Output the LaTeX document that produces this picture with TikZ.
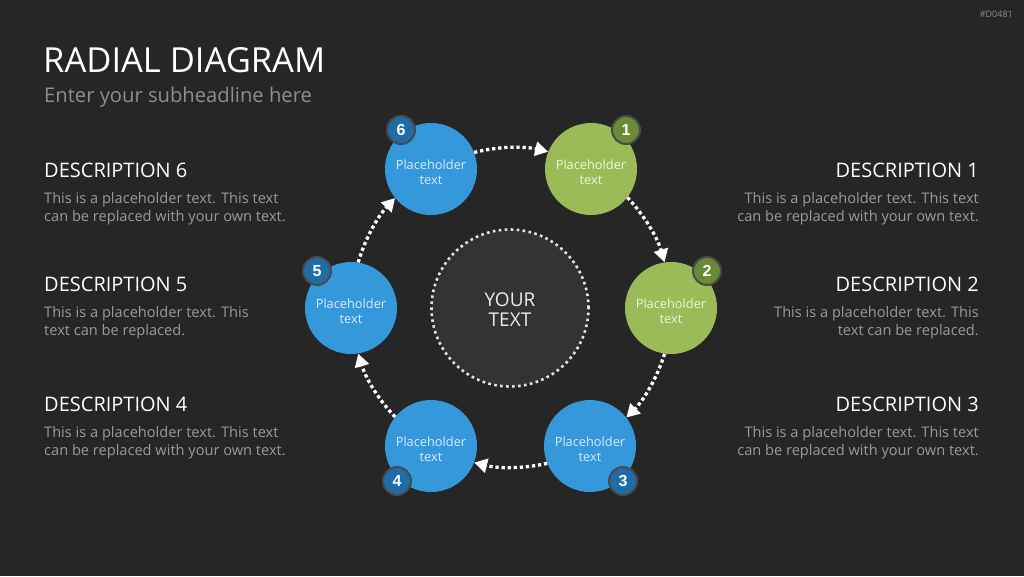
\documentclass[tikz,border=0pt]{standalone}
\usepackage{fontspec}
\setmainfont{Open Sans}
\newfontfamily\badgefont{Liberation Sans}
\usetikzlibrary{arrows.meta}
\definecolor{bg}{HTML}{262626}
\definecolor{cblue}{HTML}{3598DB}
\definecolor{cgreen}{HTML}{9BBB59}
\definecolor{bblue}{HTML}{1E6CA8}
\definecolor{bgreen}{HTML}{6B8A35}
\definecolor{bbord}{HTML}{4A4A4A}
\definecolor{greytext}{HTML}{9A9A9A}
\definecolor{subgrey}{HTML}{8E8E8E}
\definecolor{centerfill}{HTML}{333333}
\definecolor{txtblue}{HTML}{D8ECFA}
\definecolor{txtgreen}{HTML}{EEF4DF}
\tikzset{
  bubble/.style={circle, minimum size=92pt, inner sep=0pt, align=center, font=\fontsize{12.8}{15}\selectfont},
  bluebub/.style={bubble, fill=cblue, text=txtblue},
  greenbub/.style={bubble, fill=cgreen, text=txtgreen},
  badge/.style={circle, minimum size=28pt, inner sep=0pt, draw=bbord, line width=2pt, text=white, font=\badgefont\bfseries\fontsize{16}{16}\selectfont},
  flow/.style={draw=white, line width=3.3pt, dash pattern=on 3.3pt off 2.8pt, -{Triangle[length=13pt,width=14pt]}, bend left=13.5, looseness=0.87},
  head/.style={text=white, font=\fontsize{20}{24}\selectfont, inner sep=0pt},
  body/.style={text=greytext, font=\fontsize{14.6}{18}\selectfont, inner sep=0pt},
}
\newcommand{\ptext}{\rule{0pt}{15.5pt}Placeholder\\text}
\begin{document}
\begin{tikzpicture}[x=1pt,y=-1pt]
\fill[bg] (0,0) rectangle (1024,576);
\useasboundingbox (0,0) rectangle (1024,576);
% header
\node[anchor=base east, inner sep=0pt, text=subgrey, font=\fontsize{9}{10}\selectfont] (code) at (1013,17) {\#D0481};
\node[anchor=base west, inner sep=0pt, text=white, font=\fontsize{34.5}{40}\selectfont] (title) at (43,72) {RADIAL DIAGRAM};
\node[anchor=base west, inner sep=0pt, text=subgrey, font=\fontsize{20.2}{24}\selectfont] (sub) at (44,102) {Enter your subheadline here};
% center
\node[circle, minimum size=157pt, inner sep=0pt, fill=centerfill, draw=white!90!black, line width=2.6pt, dash pattern=on 2.6pt off 3.4pt, text=white!92!black, align=center, font=\fontsize{19}{20.5}\selectfont] (c) at (510,308) {\rule{0pt}{17pt}YOUR\\TEXT};
% bubbles
\node[greenbub] (n1) at (591,169) {\ptext};
\node[greenbub] (n2) at (671,308) {\ptext};
\node[bluebub] (n3) at (590,446) {\ptext};
\node[bluebub] (n4) at (431,446) {\ptext};
\node[bluebub] (n5) at (351,308) {\ptext};
\node[bluebub] (n6) at (431,169) {\ptext};
% badges
\node[badge, fill=bgreen] (b1) at (626,130) {1};
\node[badge, fill=bgreen] (b2) at (707,271) {2};
\node[badge, fill=bblue] (b3) at (623,481) {3};
\node[badge, fill=bblue] (b4) at (397,481) {4};
\node[badge, fill=bblue] (b5) at (317,271) {5};
\node[badge, fill=bblue] (b6) at (401,130) {6};
% arrows (arcs on the ring through the bubble centres)
\draw[flow] (n6.21.75) to (n1.158.25);
\draw[flow] (n1.-38.25) to (n2.98.25);
\draw[flow] (n2.-98.25) to (n3.38.25);
\draw[flow] (n3.-158.25) to (n4.-21.75);
\draw[flow] (n4.141.75) to (n5.-81.75);
\draw[flow] (n5.81.75) to (n6.-141.75);
% left descriptions
\node[head, anchor=base west] (h6) at (44,177) {DESCRIPTION 6};
\node[body, anchor=base west] (t6a) at (44,203) {This is a placeholder text. This text};
\node[body, anchor=base west] (t6b) at (44,221) {can be replaced with your own text.};
\node[head, anchor=base west] (h5) at (44,291) {DESCRIPTION 5};
\node[body, anchor=base west] (t5a) at (44,317) {This is a placeholder text. This};
\node[body, anchor=base west] (t5b) at (44,335) {text can be replaced.};
\node[head, anchor=base west] (h4) at (44,411) {DESCRIPTION 4};
\node[body, anchor=base west] (t4a) at (44,437) {This is a placeholder text. This text};
\node[body, anchor=base west] (t4b) at (44,455) {can be replaced with your own text.};
% right descriptions
\node[head, anchor=base east] (h1) at (979,177) {DESCRIPTION 1};
\node[body, anchor=base east] (t1a) at (979,203) {This is a placeholder text. This text};
\node[body, anchor=base east] (t1b) at (979,221) {can be replaced with your own text.};
\node[head, anchor=base east] (h2) at (979,291) {DESCRIPTION 2};
\node[body, anchor=base east] (t2a) at (979,317) {This is a placeholder text. This};
\node[body, anchor=base east] (t2b) at (979,335) {text can be replaced.};
\node[head, anchor=base east] (h3) at (979,411) {DESCRIPTION 3};
\node[body, anchor=base east] (t3a) at (979,437) {This is a placeholder text. This text};
\node[body, anchor=base east] (t3b) at (979,455) {can be replaced with your own text.};
\end{tikzpicture}
\end{document}
